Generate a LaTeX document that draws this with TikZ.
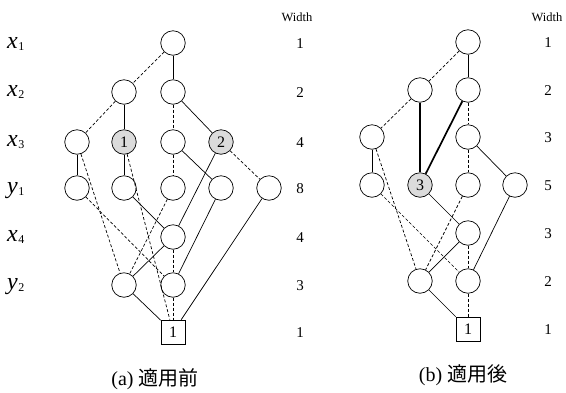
\documentclass[tikz,border=0pt]{standalone}
\usepackage{fontspec}
\setmainfont{Liberation Serif}
\newfontfamily\jpfont{Noto Sans CJK JP}
\usepackage{tikz}

\newcommand{\rowname}[2]{\textit{#1}\kern0.5pt\raisebox{-2.5pt}{\fontsize{12}{12}\selectfont #2}}

\tikzset{
	bdd/.style={circle, draw, line width=0.7pt, minimum size=24.5pt, inner sep=0pt, font=\fontsize{16}{16}\selectfont},
	shaded/.style={bdd, fill=black!14},
	term/.style={rectangle, draw, line width=0.7pt, minimum size=24pt, inner sep=0pt, font=\fontsize{16}{16}\selectfont},
	hi/.style={line width=0.7pt},
	hib/.style={line width=1.7pt},
	lo/.style={line width=0.7pt, dash pattern=on 3pt off 2pt},
	rowlbl/.style={anchor=base west, inner sep=0pt, font=\fontsize{24}{24}\selectfont},
	wnum/.style={anchor=base, inner sep=0pt, font=\fontsize{15}{15}\selectfont},
	wtitle/.style={anchor=base, inner sep=0pt, font=\fontsize{12.5}{12.5}\selectfont},
	subcap/.style={anchor=base, inner sep=0pt, font=\fontsize{20}{20}\selectfont}
}

\begin{document}
\begin{tikzpicture}[x=1pt, y=-1pt]

	\useasboundingbox (0,0) rectangle (566,392);

	% row names
	\node (r_x1) [rowlbl] at (7,48) {\rowname{x}{1}};
	\node (r_x2) [rowlbl] at (7,96) {\rowname{x}{2}};
	\node (r_x3) [rowlbl] at (7,146) {\rowname{x}{3}};
	\node (r_y1) [rowlbl] at (7,193) {\rowname{y}{1}};
	\node (r_x4) [rowlbl] at (7,241) {\rowname{x}{4}};
	\node (r_y2) [rowlbl] at (7,289) {\rowname{y}{2}};

	% (a) before
	\node (a_x1) [bdd] at (173,43) {};
	\node (a_x2l) [bdd] at (124,92) {};
	\node (a_x2r) [bdd] at (173,92) {};
	\node (a_x3a) [bdd] at (77,142) {};
	\node (a_x3b) [shaded] at (124,142) {1};
	\node (a_x3c) [bdd] at (173,142) {};
	\node (a_x3d) [shaded] at (221,142) {2};
	\node (a_y1a) [bdd] at (77,188) {};
	\node (a_y1b) [bdd] at (124,188) {};
	\node (a_y1c) [bdd] at (173,188) {};
	\node (a_y1d) [bdd] at (221,188) {};
	\node (a_y1e) [bdd] at (269,188) {};
	\node (a_x4) [bdd] at (173,237) {};
	\node (a_y2a) [bdd] at (124,285) {};
	\node (a_y2b) [bdd] at (173,285) {};
	\node (a_t) [term] at (173,332) {1};

	\path[draw, lo] (a_x1) -- (a_x2l);
	\path[draw, hi] (a_x1) -- (a_x2r);
	\path[draw, lo] (a_x2l) -- (a_x3a);
	\path[draw, hi] (a_x2l) -- (a_x3b);
	\path[draw, lo] (a_x2r) -- (a_x3c);
	\path[draw, hi] (a_x2r) -- (a_x3d);
	\path[draw, hi] (a_x3a) -- (a_y1a);
	\path[draw, lo] (a_x3a) -- (a_y2a);
	\path[draw, hi] (a_x3b) -- (a_y1b);
	\path[draw, lo] (a_x3b) -- (a_t);
	\path[draw, lo] (a_x3c) -- (a_y1c);
	\path[draw, hi] (a_x3c) -- (a_y1d);
	\path[draw, hi] (a_x3d) -- (a_x4);
	\path[draw, lo] (a_x3d) -- (a_y1e);
	\path[draw, lo] (a_y1a) -- (a_y2b);
	\path[draw, hi] (a_y1b) -- (a_x4);
	\path[draw, lo] (a_y1c) -- (a_y2a);
	\path[draw, hi] (a_y1d) -- (a_y2b);
	\path[draw, hi] (a_y1e) -- (a_t);
	\path[draw, hi] (a_x4) -- (a_y2a);
	\path[draw, lo] (a_x4) -- (a_y2b);
	\path[draw, hi] (a_y2a) -- (a_t);
	\path[draw, lo] (a_y2b) -- (a_t);

	\node (a_wt) [wtitle] at (297,21) {Width};
	\node (a_w1) [wnum] at (300,48) {1};
	\node (a_w2) [wnum] at (300,97) {2};
	\node (a_w3) [wnum] at (300,147) {4};
	\node (a_w4) [wnum] at (300,193) {8};
	\node (a_w5) [wnum] at (300,242) {4};
	\node (a_w6) [wnum] at (300,290) {3};
	\node (a_w7) [wnum] at (300,337) {1};

	\node (a_cap) [subcap] at (155,385) {(a) {\jpfont 適用前}};

	% (b) after
	\node (b_x1) [bdd] at (468,42) {};
	\node (b_x2l) [bdd] at (420,90) {};
	\node (b_x2r) [bdd] at (468,90) {};
	\node (b_x3a) [bdd] at (372,137) {};
	\node (b_x3c) [bdd] at (468,137) {};
	\node (b_y1a) [bdd] at (372,185) {};
	\node (b_y1b) [shaded] at (420,185) {3};
	\node (b_y1c) [bdd] at (468,185) {};
	\node (b_y1d) [bdd] at (515,185) {};
	\node (b_x4) [bdd] at (468,233) {};
	\node (b_y2a) [bdd] at (420,281) {};
	\node (b_y2b) [bdd] at (468,281) {};
	\node (b_t) [term] at (468,329) {1};

	\path[draw, lo] (b_x1) -- (b_x2l);
	\path[draw, hi] (b_x1) -- (b_x2r);
	\path[draw, lo] (b_x2l) -- (b_x3a);
	\path[draw, hib] (b_x2l) -- (b_y1b);
	\path[draw, lo] (b_x2r) -- (b_x3c);
	\path[draw, hib] (b_x2r) -- (b_y1b);
	\path[draw, hi] (b_x3a) -- (b_y1a);
	\path[draw, lo] (b_x3a) -- (b_y2a);
	\path[draw, lo] (b_x3c) -- (b_y1c);
	\path[draw, hi] (b_x3c) -- (b_y1d);
	\path[draw, lo] (b_y1a) -- (b_y2b);
	\path[draw, hi] (b_y1b) -- (b_x4);
	\path[draw, lo] (b_y1c) -- (b_y2a);
	\path[draw, hi] (b_y1d) -- (b_y2b);
	\path[draw, hi] (b_x4) -- (b_y2a);
	\path[draw, lo] (b_x4) -- (b_y2b);
	\path[draw, hi] (b_y2a) -- (b_t);
	\path[draw, lo] (b_y2b) -- (b_t);

	\node (b_wt) [wtitle] at (547,21) {Width};
	\node (b_w1) [wnum] at (548,47) {1};
	\node (b_w2) [wnum] at (548,95) {2};
	\node (b_w3) [wnum] at (548,142) {3};
	\node (b_w4) [wnum] at (548,190) {5};
	\node (b_w5) [wnum] at (548,238) {3};
	\node (b_w6) [wnum] at (548,286) {2};
	\node (b_w7) [wnum] at (548,334) {1};

	\node (b_cap) [subcap] at (463,381) {(b) {\jpfont 適用後}};

\end{tikzpicture}
\end{document}
